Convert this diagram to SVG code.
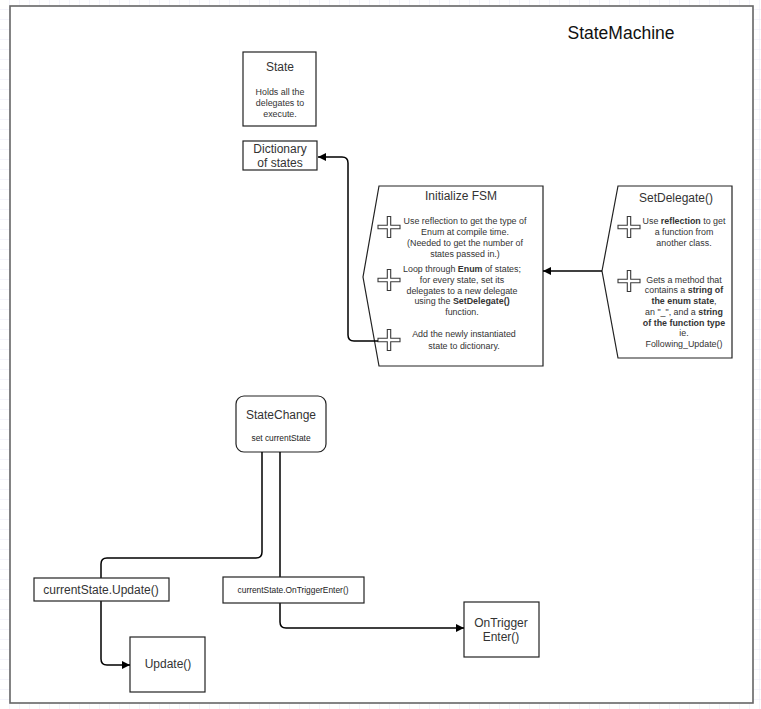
<svg xmlns="http://www.w3.org/2000/svg" width="761" height="709" viewBox="0 0 761 709">
  <defs>
    <pattern id="grid" width="10" height="10" patternUnits="userSpaceOnUse">
      <path d="M10 0V10M0 10H10" fill="none" stroke="#e8e8f6" stroke-width="1"/>
    </pattern>
    <marker id="arrow" viewBox="0 0 10 10" refX="10" refY="5" markerWidth="8" markerHeight="8" markerUnits="userSpaceOnUse" orient="auto">
      <path d="M0 0L10 5L0 10Z" fill="#000"/>
    </marker>
    <!-- double-lined plus icon, centred on 0,0 -->
    <path id="plus" d="M-1.7 -10.5H1.7V-1.7H11V1.7H1.7V10.5H-1.7V1.7H-11V-1.7H-1.7Z"/>
  </defs>
  <style>
    .box { fill: #fff; stroke: #222; stroke-width: 1.2; }
    .t12 { font-family: "Liberation Sans", Arial, sans-serif; font-size: 12px; fill: #333; text-anchor: middle; }
    .t9 { font-family: "Liberation Sans", Arial, sans-serif; font-size: 8.9px; fill: #333; text-anchor: middle; }
    .t85 { font-family: "Liberation Sans", Arial, sans-serif; font-size: 8.4px; fill: #222; text-anchor: middle; }
    .b { font-weight: bold; }
    .edge { fill: none; stroke: #000; stroke-width: 1.5; }
    .icon { fill: #fff; stroke: #3a3a3a; stroke-width: 1.1; }
  </style>

  <!-- canvas grid and page frame -->
  <rect x="0" y="0" width="761" height="709" fill="#fff"/>
  <rect x="0" y="0" width="761" height="709" fill="url(#grid)"/>
  <rect x="10" y="6" width="743" height="697" fill="#fff" stroke="#666" stroke-width="1.6"/>

  <text x="621" y="39" font-family="'Liberation Sans', Arial, sans-serif" font-size="17.5" fill="#111" text-anchor="middle">StateMachine</text>

  <g id="state">
    <rect class="box" x="243" y="52" width="73" height="74"/>
    <text class="t12" x="280" y="71">State</text>
    <text class="t9" x="280" y="95">Holds all the</text>
    <text class="t9" x="280" y="106">delegates to</text>
    <text class="t9" x="280" y="117">execute.</text>
  </g>

  <g id="dictionary">
    <rect class="box" x="243" y="141" width="74" height="29"/>
    <text class="t12" x="280" y="153">Dictionary</text>
    <text class="t12" x="280" y="166.5">of states</text>
  </g>

  <g id="initialize-fsm">
    <path class="box" d="M379 186H543V366H379L363 277Z"/>
    <text class="t12" x="461" y="200">Initialize FSM</text>
    <use href="#plus" class="icon" x="389" y="227"/>
    <use href="#plus" class="icon" x="389" y="280"/>
    <use href="#plus" class="icon" x="389" y="340"/>
    <text class="t9" x="465" y="224">Use reflection to get the type of</text>
    <text class="t9" x="465" y="235">Enum at compile time.</text>
    <text class="t9" x="465" y="246">(Needed to get the number of</text>
    <text class="t9" x="465" y="257">states passed in.)</text>
    <text class="t9" x="462" y="272">Loop through <tspan class="b">Enum</tspan> of states;</text>
    <text class="t9" x="462" y="283">for every state, set its</text>
    <text class="t9" x="462" y="294">delegates to a new delegate</text>
    <text class="t9" x="462" y="304">using the <tspan class="b">SetDelegate()</tspan></text>
    <text class="t9" x="462" y="315">function.</text>
    <text class="t9" x="464" y="337">Add the newly instantiated</text>
    <text class="t9" x="464" y="349">state to dictionary.</text>
  </g>

  <g id="set-delegate">
    <path class="box" d="M618 186H732V358H618L602 271Z"/>
    <text class="t12" x="676" y="202">SetDelegate()</text>
    <use href="#plus" class="icon" x="629" y="227"/>
    <use href="#plus" class="icon" x="629" y="281"/>
    <text class="t9" x="684" y="224">Use <tspan class="b">reflection</tspan> to get</text>
    <text class="t9" x="684" y="235">a function from</text>
    <text class="t9" x="684" y="246">another class.</text>
    <text class="t9" x="684" y="283">Gets a method that</text>
    <text class="t9" x="684" y="293">contains a <tspan class="b">string of</tspan></text>
    <text class="t9" x="684" y="304"><tspan class="b">the enum state</tspan>,</text>
    <text class="t9" x="684" y="315">an "_", and a <tspan class="b">string</tspan></text>
    <text class="t9" x="684" y="326"><tspan class="b">of the function type</tspan></text>
    <text class="t9" x="684" y="336">ie.</text>
    <text class="t9" x="684" y="347">Following_Update()</text>
  </g>

  <g id="state-change">
    <rect class="box" x="236" y="396" width="90" height="56" rx="8" ry="8"/>
    <text class="t12" x="281" y="419">StateChange</text>
    <text class="t85" x="281" y="441">set currentState</text>
  </g>

  <g id="update">
    <rect class="box" x="130" y="637" width="75" height="55"/>
    <text class="t12" x="168" y="668">Update()</text>
  </g>

  <g id="on-trigger-enter">
    <rect class="box" x="464" y="602" width="75" height="55"/>
    <text class="t12" x="501" y="627">OnTrigger</text>
    <text class="t12" x="501" y="641">Enter()</text>
  </g>

  <g id="connectors">
    <path class="edge" marker-end="url(#arrow)" d="M378 341H354Q348 341 348 335V163Q348 157 342 157H318"/>
    <path class="edge" marker-end="url(#arrow)" d="M602 271H543"/>
    <path class="edge" marker-end="url(#arrow)" d="M262 452V552Q262 558 256 558H107Q101 558 101 564V659Q101 665 107 665H130"/>
    <path class="edge" marker-end="url(#arrow)" d="M280 452V622Q280 628 286 628H464"/>
  </g>

  <g id="current-update">
    <rect class="box" x="34" y="578" width="135" height="23"/>
    <text class="t12" x="101" y="594">currentState.Update()</text>
  </g>

  <g id="current-on-trigger-enter">
    <rect class="box" x="223" y="577" width="141" height="26"/>
    <text class="t85" x="293" y="593">currentState.OnTriggerEnter()</text>
  </g>
</svg>
